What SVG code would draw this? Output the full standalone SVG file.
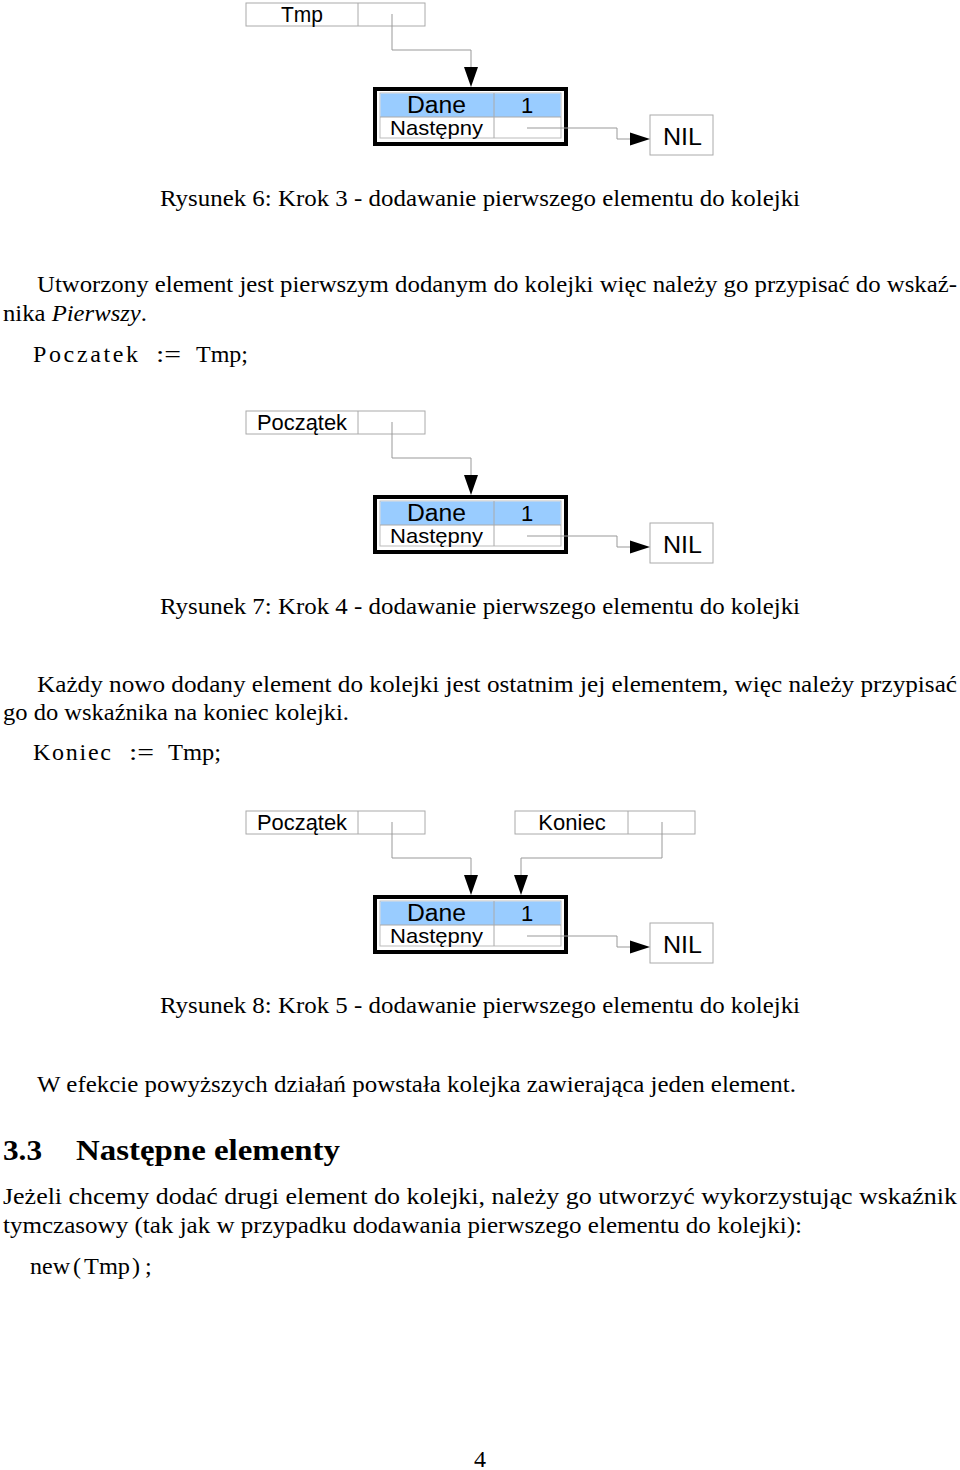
<svg xmlns="http://www.w3.org/2000/svg" width="960" height="1470" viewBox="0 0 960 1470">
<style>
.bg{fill:#fff}
.ptr{fill:#fff;stroke:#aaa;stroke-width:1}
.sep{stroke:#aaa;stroke-width:1}
.conn{fill:none;stroke:#999;stroke-width:1}
.arrow{fill:#000}
.outer{fill:#fff;stroke:#000;stroke-width:4}
.inner{fill:#fff;stroke:#bbb;stroke-width:1}
.blue{fill:#99ccff}
.sans{font-family:"Liberation Sans",Arial,sans-serif;fill:#000}
.lbl{font-size:22px;text-anchor:middle}
.serif{font-family:"Liberation Serif","Times New Roman",serif;fill:#000;font-size:24px}
.code{font-family:"Liberation Serif","Times New Roman",serif;fill:#000;font-size:24px}
.head{font-family:"Liberation Serif","Times New Roman",serif;fill:#000;font-size:29px;font-weight:bold}
</style>
<defs>
<g id="node">
<rect class="outer" x="375" y="89" width="191" height="55"/>
<rect class="inner" x="380" y="93" width="181" height="45"/>
<rect class="blue" x="380.5" y="93.5" width="180" height="23.5"/>
<line class="sep" x1="380" y1="117" x2="561" y2="117"/>
<line class="sep" x1="494" y1="93" x2="494" y2="138"/>
<text class="sans" x="407" y="113" font-size="23" textLength="59" lengthAdjust="spacingAndGlyphs">Dane</text>
<text class="sans" x="527" y="113" font-size="22" text-anchor="middle">1</text>
<text class="sans" x="390" y="135" font-size="21" textLength="93" lengthAdjust="spacingAndGlyphs">Następny</text>
</g>
<g id="nil">
<rect class="ptr" x="650" y="115" width="63" height="40"/>
<text class="sans" x="663" y="145" font-size="23" textLength="39" lengthAdjust="spacingAndGlyphs">NIL</text>
<path class="conn" d="M527,128 H617 V139 H632"/>
<polygon class="arrow" points="650,139 630,132.5 630,145.5"/>
</g>
<g id="ptrbox">
<rect class="ptr" x="246" y="3" width="179" height="23"/>
<line class="sep" x1="358" y1="3" x2="358" y2="26"/>
</g>
</defs>
<rect class="bg" x="0" y="0" width="960" height="1470"/>

<!-- Figure 6 -->
<g id="fig6-tmp">
<use href="#ptrbox"/>
<text class="sans" x="281" y="22" font-size="22" textLength="42" lengthAdjust="spacingAndGlyphs">Tmp</text>
</g>
<g id="fig6-elem"><use href="#node"/></g>
<g id="fig6-nil"><use href="#nil"/></g>
<g id="fig6-connectors">
<path class="conn" d="M392,14 V50 H471 V70"/>
<polygon class="arrow" points="471,87 464,67 478,67"/>
</g>
<text class="serif" x="160" y="206" textLength="640" lengthAdjust="spacingAndGlyphs">Rysunek 6: Krok 3 - dodawanie pierwszego elementu do kolejki</text>

<text class="serif" x="37" y="292" textLength="920" lengthAdjust="spacingAndGlyphs">Utworzony element jest pierwszym dodanym do kolejki więc należy go przypisać do wskaź-</text>
<text class="serif" x="3" y="321" textLength="144" lengthAdjust="spacingAndGlyphs">nika <tspan font-style="italic">Pierwszy</tspan>.</text>
<g class="code">
<text x="33" y="362" textLength="105" lengthAdjust="spacing">Poczatek</text>
<text x="156" y="362" textLength="25" lengthAdjust="spacingAndGlyphs">:=</text>
<text x="196" y="362" textLength="52" lengthAdjust="spacingAndGlyphs">Tmp;</text>
</g>

<!-- Figure 7 -->
<g transform="translate(0,408)">
<g id="fig7-poczatek">
<use href="#ptrbox"/>
<text class="sans" x="257" y="22" font-size="22" textLength="90" lengthAdjust="spacingAndGlyphs">Początek</text>
</g>
<g id="fig7-elem"><use href="#node"/></g>
<g id="fig7-nil"><use href="#nil"/></g>
<g id="fig7-connectors">
<path class="conn" d="M392,14 V50 H471 V70"/>
<polygon class="arrow" points="471,87 464,67 478,67"/>
</g>
</g>
<text class="serif" x="160" y="614" textLength="640" lengthAdjust="spacingAndGlyphs">Rysunek 7: Krok 4 - dodawanie pierwszego elementu do kolejki</text>

<text class="serif" x="37" y="692" textLength="920" lengthAdjust="spacingAndGlyphs">Każdy nowo dodany element do kolejki jest ostatnim jej elementem, więc należy przypisać</text>
<text class="serif" x="3" y="720" textLength="346" lengthAdjust="spacingAndGlyphs">go do wskaźnika na koniec kolejki.</text>
<g class="code">
<text x="33" y="760" textLength="78" lengthAdjust="spacing">Koniec</text>
<text x="129" y="760" textLength="25" lengthAdjust="spacingAndGlyphs">:=</text>
<text x="168" y="760" textLength="53" lengthAdjust="spacingAndGlyphs">Tmp;</text>
</g>

<!-- Figure 8 -->
<g transform="translate(0,808)">
<g id="fig8-poczatek">
<use href="#ptrbox"/>
<text class="sans" x="257" y="22" font-size="22" textLength="90" lengthAdjust="spacingAndGlyphs">Początek</text>
</g>
<g id="fig8-koniec">
<rect class="ptr" x="515" y="3" width="180" height="23"/>
<line class="sep" x1="628" y1="3" x2="628" y2="26"/>
<text class="sans lbl" x="572" y="22">Koniec</text>
</g>
<g id="fig8-elem"><use href="#node"/></g>
<g id="fig8-nil"><use href="#nil"/></g>
<g id="fig8-connectors">
<path class="conn" d="M392,14 V50 H471 V70"/>
<polygon class="arrow" points="471,87 464,67 478,67"/>
<path class="conn" d="M662,14 V50 H521 V70"/>
<polygon class="arrow" points="521,87 514,67 528,67"/>
</g>
</g>
<text class="serif" x="160" y="1013" textLength="640" lengthAdjust="spacingAndGlyphs">Rysunek 8: Krok 5 - dodawanie pierwszego elementu do kolejki</text>

<text class="serif" x="37" y="1092" textLength="759" lengthAdjust="spacingAndGlyphs">W efekcie powyższych działań powstała kolejka zawierająca jeden element.</text>

<text class="head" x="3" y="1160" textLength="39" lengthAdjust="spacingAndGlyphs">3.3</text>
<text class="head" x="76" y="1160" textLength="264" lengthAdjust="spacingAndGlyphs">Następne elementy</text>

<text class="serif" x="3" y="1204" textLength="954" lengthAdjust="spacingAndGlyphs">Jeżeli chcemy dodać drugi element do kolejki, należy go utworzyć wykorzystując wskaźnik</text>
<text class="serif" x="3" y="1233" textLength="799" lengthAdjust="spacingAndGlyphs">tymczasowy (tak jak w przypadku dodawania pierwszego elementu do kolejki):</text>
<g class="code">
<text x="30" y="1274" textLength="40" lengthAdjust="spacingAndGlyphs">new</text>
<text x="73" y="1274">(</text>
<text x="84" y="1274" textLength="46" lengthAdjust="spacingAndGlyphs">Tmp</text>
<text x="132" y="1274">)</text>
<text x="145" y="1274">;</text>
</g>

<text class="serif" x="480" y="1467" text-anchor="middle">4</text>
</svg>
